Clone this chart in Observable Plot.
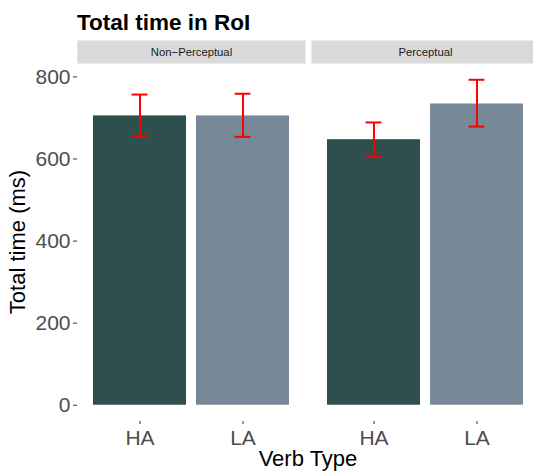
<!DOCTYPE html>
<html><head><meta charset="utf-8">
<script src="https://cdn.jsdelivr.net/npm/d3@7"></script>
<script src="https://cdn.jsdelivr.net/npm/@observablehq/plot@0.6"></script>
<style>
html,body{margin:0;padding:0;background:#fff;}
body{width:533px;height:474px;overflow:hidden;position:relative;font-family:"Liberation Sans",Arial,Helvetica,sans-serif;}
#chart{position:absolute;left:0;top:0;width:539px;height:474px;}
#chart svg{max-width:none !important;width:539px;height:474px;}
</style></head>
<body><div id="chart"></div>
<script>
// ---- data ----
const verbClass = ["Non−Perceptual", "Non−Perceptual", "Perceptual", "Perceptual"];
const verbType  = ["HA", "LA", "HA", "LA"];
const meanTime  = [705, 705, 647, 734];
const lowerCI   = [656, 654, 605, 679];
const upperCI   = [757, 759, 689, 793];
const classOrder = ["Non−Perceptual", "Perceptual"];
const typeOrder  = ["HA", "LA"];
const yTicks = [0, 200, 400, 600, 800];
const titleText = "Total time in RoI";
const xTitle = "Verb Type";
const yTitle = "Total time (ms)";
const barColors = ["#2F4F4F", "#778899"];

const data = verbType.map((v, i) => ({cls: verbClass[i], verb: v, mean: meanTime[i], lo: lowerCI[i], hi: upperCI[i]}));

const ymax = d3.max(upperCI);
const pad = 0.05 * ymax;
const W = 539, H = 474, mL = 77, mT = 63, mB = 53;
const panelH = H - mT - mB;
const font = '"Liberation Sans", Arial, Helvetica, sans-serif';

const svg = Plot.plot({
  width: W, height: H,
  marginLeft: mL, marginRight: 0, marginTop: mT, marginBottom: mB,
  style: {fontFamily: font, background: "white", overflow: "visible", maxWidth: "none"},
  fx: {domain: classOrder, paddingInner: 6 / 234, paddingOuter: 0, axis: null, label: null},
  x: {domain: typeOrder, paddingInner: 0.1, paddingOuter: 0.15, axis: null, label: null},
  y: {domain: [-pad, ymax + pad], axis: null, label: null},
  color: {domain: typeOrder, range: barColors},
  marks: [
    Plot.frame({fill: "#D9D9D9", stroke: "none", insetTop: -23, insetBottom: panelH}),
    Plot.text(classOrder, {fx: d => d, text: d => d, frameAnchor: "top", dy: -11.5, lineAnchor: "middle", fontSize: 11.3, fill: "#1A1A1A"}),
    Plot.barY(data, {fx: "cls", x: "verb", y: "mean", fill: "verb"}),
    Plot.ruleX(data, {fx: "cls", x: "verb", y1: "lo", y2: "hi", stroke: "#FF0000", strokeWidth: 2}),
    Plot.tickY(data, {fx: "cls", x: "verb", y: "lo", stroke: "#FF0000", strokeWidth: 2, inset: 38.6}),
    Plot.tickY(data, {fx: "cls", x: "verb", y: "hi", stroke: "#FF0000", strokeWidth: 2, inset: 38.6}),
    Plot.axisY({ticks: yTicks, tickSize: 4, tickPadding: 3, fontSize: 21, fill: "#4D4D4D", stroke: "#333333", label: null}),
    Plot.axisX({tickSize: 3, tickPadding: 6, fontSize: 21, fill: "#4D4D4D", stroke: "#333333", label: null})
  ]
});
svg.style.maxWidth = "none";

const s = d3.select(svg);
s.append("text").attr("x", 77).attr("y", 29.5).attr("text-anchor", "start")
  .attr("font-family", font).attr("font-weight", "bold").attr("font-size", 22.5).attr("fill", "#000")
  .text(titleText);
s.append("text").attr("transform", "translate(25,242) rotate(-90)")
  .attr("text-anchor", "middle").attr("font-family", font).attr("font-size", 22).attr("fill", "#000")
  .text(yTitle);
s.append("text").attr("x", 308).attr("y", 466)
  .attr("text-anchor", "middle").attr("font-family", font).attr("font-size", 22).attr("fill", "#000")
  .text(xTitle);

document.getElementById("chart").appendChild(svg);
</script>
</body></html>
